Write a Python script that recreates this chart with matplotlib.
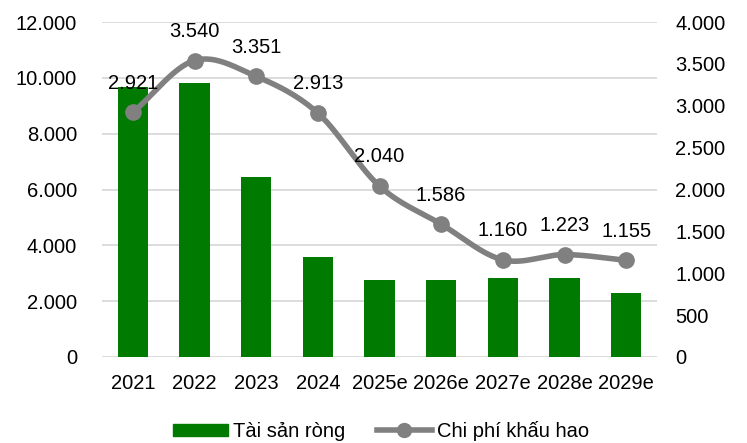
import numpy as np
import matplotlib.pyplot as plt
from matplotlib.lines import Line2D
from matplotlib.patches import Patch

plt.rcParams['font.family'] = ['Liberation Sans', 'DejaVu Sans']

years = ['2021', '2022', '2023', '2024', '2025e', '2026e', '2027e', '2028e', '2029e']
tai_san_rong = [9670, 9800, 6460, 3570, 2760, 2750, 2840, 2840, 2280]
chi_phi_khau_hao = [2921, 3540, 3351, 2913, 2040, 1586, 1160, 1223, 1155]

green = '#007A00'
grey = '#808080'
fs = 14.5


def smooth(x, y, n=30):
    # Excel-style smoothed line (Catmull-Rom through the points)
    x = np.asarray(x, float)
    y = np.asarray(y, float)
    px = np.concatenate([[2 * x[0] - x[1]], x, [2 * x[-1] - x[-2]]])
    py = np.concatenate([[2 * y[0] - y[1]], y, [2 * y[-1] - y[-2]]])
    t = np.linspace(0, 1, n)
    xs, ys = [], []
    for i in range(1, len(px) - 2):
        for p, out in ((px, xs), (py, ys)):
            p0, p1, p2, p3 = p[i - 1], p[i], p[i + 1], p[i + 2]
            out.extend(0.5 * (2 * p1 + (-p0 + p2) * t
                              + (2 * p0 - 5 * p1 + 4 * p2 - p3) * t ** 2
                              + (-p0 + 3 * p1 - 3 * p2 + p3) * t ** 3))
    return np.array(xs), np.array(ys)


def fmt(v):
    return f'{v:,}'.replace(',', '.')


fig = plt.figure(figsize=(7.47, 4.43), dpi=100)
ax = fig.add_axes([102 / 747, 1 - 357 / 443, (657 - 102) / 747, (357 - 22) / 443])
ax2 = ax.twinx()

x = np.arange(len(years))
ax.bar(x, tai_san_rong, width=0.49, color=green, zorder=2)
ax.set_ylim(0, 12000)
ax.set_yticks(np.arange(0, 12001, 2000))
ax.set_yticklabels([fmt(v) for v in range(0, 12001, 2000)])
ax.grid(axis='y', color='#d9d9d9', linewidth=1.3, zorder=0)
ax.set_axisbelow(True)
ax.set_xlim(-0.5, len(years) - 0.5)
ax.set_xticks(x)
ax.set_xticklabels(years)

sx, sy = smooth(x, chi_phi_khau_hao)
ax2.plot(sx, sy, color=grey, linewidth=4, solid_capstyle='round', zorder=3)
ax2.plot(x, chi_phi_khau_hao, 'o', color=grey, markersize=11, zorder=4)
ax2.set_ylim(0, 4000)
ax2.set_yticks(np.arange(0, 4001, 500))
ax2.set_yticklabels([fmt(v) for v in range(0, 4001, 500)])
for xi, v in zip(x, chi_phi_khau_hao):
    ax2.annotate(fmt(v), (xi, v), xytext=(0, 21),
                 textcoords='offset points', ha='center', va='center', fontsize=fs)

for a in (ax, ax2):
    for s in a.spines.values():
        s.set_visible(False)
    a.tick_params(length=0, labelsize=fs, colors='black')
ax.tick_params(axis='x', pad=12)
ax.tick_params(axis='y', pad=18)
ax2.tick_params(axis='y', pad=13)

handles = [Patch(color=green),
           Line2D([], [], color=grey, linewidth=4, marker='o', markersize=10)]
fig.legend(handles, ['Tài sản ròng', 'Chi phí khấu hao'], loc='center',
           bbox_to_anchor=(0.51, 1 - 431 / 443), ncol=2, frameon=False, fontsize=fs,
           handlelength=2.7, handleheight=0.55, columnspacing=1.6, handletextpad=0.25,
           borderpad=0.1)

fig.savefig('out.png', dpi=100)
